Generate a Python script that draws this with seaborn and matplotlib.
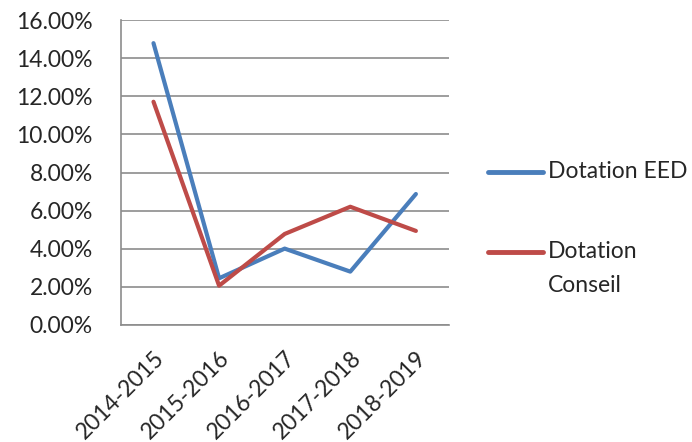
import pandas as pd
import matplotlib.pyplot as plt
import seaborn as sns
from matplotlib.ticker import PercentFormatter, FixedLocator
from matplotlib.lines import Line2D

# Data
years = ['2014-2015', '2015-2016', '2016-2017', '2017-2018', '2018-2019']
dotation_eed = [0.148, 0.0244, 0.040, 0.0279, 0.0687]
dotation_conseil = [0.1172, 0.0205, 0.0477, 0.062, 0.0493]
series_names = ['Dotation EED', 'Dotation Conseil']
legend_labels = ['Dotation EED', 'Dotation\nConseil']
colors = ['#4A7EBB', '#BE4B48']

df = pd.DataFrame({
    'year': years * 2,
    'value': dotation_eed + dotation_conseil,
    'series': [series_names[0]] * len(years) + [series_names[1]] * len(years),
})

sns.set_style('white')
plt.rcParams['font.family'] = ['Lato', 'DejaVu Sans']
FS = 16.5

fig = plt.figure(figsize=(6.92, 4.42), dpi=100)
ax = fig.add_axes([0.1744, 0.2654, 0.474, 0.6886])

sns.lineplot(data=df, x='year', y='value', hue='series', palette=colors,
             linewidth=3, ax=ax, legend=False, sort=False)

ax.set_ylim(0, 0.16)
ax.set_xlim(-0.5, len(years) - 0.5)
ax.yaxis.set_major_locator(FixedLocator([i * 0.02 for i in range(9)]))
ax.yaxis.set_major_formatter(PercentFormatter(1.0, decimals=2))
ax.grid(axis='y', color='#8c8c8c', linewidth=1.2)
ax.set_axisbelow(True)

# category labels centred, ticks on boundaries
ax.set_xticks(range(len(years)))
ax.set_xticklabels(years, rotation=45, ha='right', rotation_mode='anchor')
ax.set_xticks([i - 0.5 for i in range(len(years) + 1)], minor=True)
ax.tick_params(axis='x', which='major', length=0, pad=16, labelsize=FS)
ax.tick_params(axis='x', which='minor', length=5, width=1.2, color='#8c8c8c', direction='out')
ax.tick_params(axis='y', length=5, width=1.2, color='#8c8c8c', direction='out', labelsize=FS, pad=15)
ax.set_xlabel('')
ax.set_ylabel('')

for s in ['top', 'right']:
    ax.spines[s].set_visible(False)
for s in ['left', 'bottom']:
    ax.spines[s].set_color('#8c8c8c')
    ax.spines[s].set_linewidth(1.2)

# legend drawn by hand so the red key sits on the first line of its label
W, H = 692, 442
key_rows = [172, 252]
for c, lab, yy in zip(colors, legend_labels, key_rows):
    fig.add_artist(Line2D([488 / W, 543 / W], [1 - yy / H] * 2, color=c,
                          linewidth=3.5, solid_capstyle='round',
                          transform=fig.transFigure))
    fig.text(548 / W, 1 - yy / H, lab.split('\n')[0], fontsize=FS, va='center', ha='left')
    for k, extra in enumerate(lab.split('\n')[1:], start=1):
        fig.text(548 / W, 1 - (yy + 33 * k) / H, extra, fontsize=FS, va='center', ha='left')

plt.savefig('out.png', dpi=100)
